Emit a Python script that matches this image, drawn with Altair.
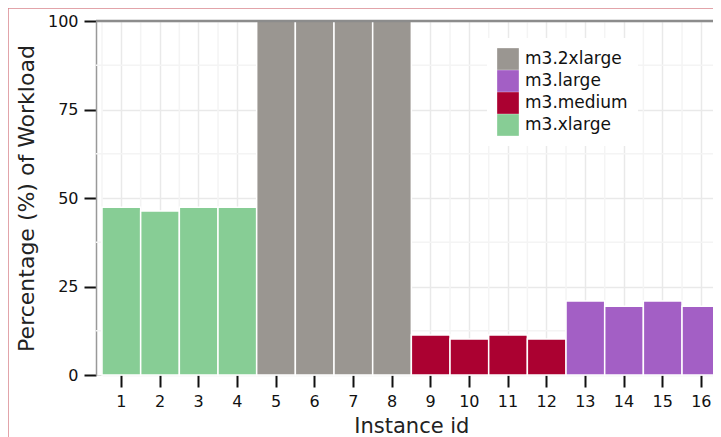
import altair as alt
import pandas as pd

# ---- data ----
instances = list(range(1, 17))
instance_types = (["m3.xlarge"] * 4 + ["m3.2xlarge"] * 4 +
                  ["m3.medium"] * 4 + ["m3.large"] * 4)
workload = [47.4, 46.3, 47.4, 47.4,
            100, 100, 100, 100,
            11.3, 10.2, 11.3, 10.2,
            20.9, 19.4, 20.9, 19.4]
type_order = ["m3.2xlarge", "m3.large", "m3.medium", "m3.xlarge"]
type_colors = ["#9a9691", "#a35fc5", "#ab0131", "#87cd95"]
y_major = [0, 25, 50, 75, 100]
y_minor = [12.5, 37.5, 62.5, 87.5]

FONT = "DejaVu Sans"

df = pd.DataFrame({"Instance id": instances, "type": instance_types, "pct": workload})
minor_df = pd.DataFrame({"v": y_minor})
top_df = pd.DataFrame({"v": [100]})
one = pd.DataFrame({"a": [0]})

# the band scale runs slightly past the visible right edge, as in the reference
xscale = alt.Scale(range=[6, 624.7], paddingInner=0, paddingOuter=0)
yscale = alt.Scale(domain=[0, 100], nice=False)

xaxis = alt.Axis(labelAngle=0, domain=False, grid=True, bandPosition=0.5,
                 gridColor="#e9e9e9", gridWidth=1.5,
                 tickColor="#111111", tickWidth=2, tickSize=12,
                 labelFontSize=16, labelPadding=6, labelColor="#111111",
                 titleFontSize=21, titleFontWeight="normal", titlePadding=6,
                 titleColor="#222222", labelFont=FONT, titleFont=FONT)
yaxis = alt.Axis(values=y_major, grid=True, gridColor="#e9e9e9", gridWidth=1.5,
                 domainColor="#999999", domainWidth=1.5,
                 tickColor="#111111", tickWidth=2, tickSize=12,
                 labelFontSize=16, labelPadding=6, labelColor="#111111",
                 titleFontSize=22, titleFontWeight="normal", titlePadding=9,
                 titleColor="#222222", labelFont=FONT, titleFont=FONT)

X = alt.X("Instance id:O", scale=xscale, axis=xaxis, title="Instance id")

vminor = alt.Chart(df).mark_rule(color="#f4f4f4", strokeWidth=1.5).encode(
    x=alt.X("Instance id:O", scale=xscale, axis=xaxis, title="Instance id", bandPosition=0)
)
hminor = alt.Chart(minor_df).mark_rule(color="#f4f4f4", strokeWidth=1.5).encode(
    y=alt.Y("v:Q", scale=yscale, axis=yaxis, title="Percentage (%) of Workload")
)
bars = alt.Chart(df).mark_bar(stroke="white", strokeWidth=1.5).encode(
    x=X,
    y=alt.Y("pct:Q", scale=yscale, axis=yaxis, title="Percentage (%) of Workload"),
    color=alt.Color("type:N", scale=alt.Scale(domain=type_order, range=type_colors),
                    legend=alt.Legend(title=None, orient="none", legendX=391, legendY=17,
                                      fillColor="white", padding=10,
                                      symbolType="square", symbolSize=470,
                                      symbolStrokeWidth=0, rowPadding=0,
                                      labelFontSize=17, labelOffset=6,
                                      labelColor="#111111", labelFont=FONT)),
)
topline = alt.Chart(top_df).mark_rule(color="#8c8c8c", strokeWidth=2.5).encode(
    y=alt.Y("v:Q", scale=yscale, axis=yaxis, title="Percentage (%) of Workload")
)
border = alt.Chart(one).mark_rect(fill="transparent", stroke="#d9868e", strokeWidth=1.5).encode(
    x=alt.value(-88), x2=alt.value(800), y=alt.value(-13), y2=alt.value(600)
)

chart = alt.layer(vminor, hminor, bars, topline, border).properties(
    width=617, height=354,
    padding={"left": 88, "top": 13, "right": 0, "bottom": 62},
    autosize=alt.AutoSizeParams(type="none"),
).configure_view(stroke=None).configure(font=FONT)

chart.save("out.html", embed_options={"renderer": "svg", "actions": False})
